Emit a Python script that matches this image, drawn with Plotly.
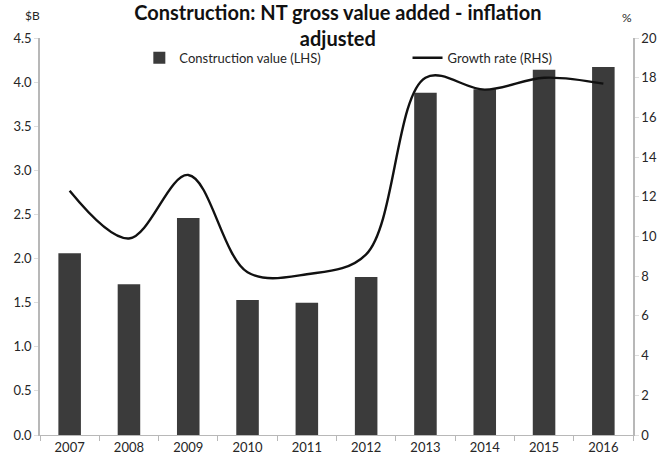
import plotly.graph_objects as go

# NT construction gross value added (inflation adjusted)
years = ["2007", "2008", "2009", "2010", "2011", "2012", "2013", "2014", "2015", "2016"]
construction_value = [2.06, 1.71, 2.46, 1.53, 1.50, 1.79, 3.88, 3.92, 4.14, 4.17]  # $B
growth_rate = [12.3, 9.9, 13.1, 8.2, 8.1, 9.1, 18.0, 17.4, 18.0, 17.7]  # %

left_ticks = [0, 0.5, 1.0, 1.5, 2.0, 2.5, 3.0, 3.5, 4.0, 4.5]
right_ticks = [0, 2, 4, 6, 8, 10, 12, 14, 16, 18, 20]

title_text = "Construction: NT gross value added - inflation<br>adjusted"

FONT = "Lato"
AXIS_GREY = "#b8b8b8"
TEXT = "#262626"

W, H = 669, 467
M_L, M_R, M_T, M_B = 40, 32, 38, 29
PLOT_W = W - M_L - M_R
PLOT_H = H - M_T - M_B


def paper_x(px):
    """Convert a pixel column (from the left of the page) to paper x."""
    return (px - M_L) / PLOT_W


def paper_y(px):
    """Convert a pixel row (from the top of the page) to paper y."""
    return (H - M_B - px) / PLOT_H


fig = go.Figure()

fig.add_trace(go.Bar(
    x=years, y=construction_value, name="Construction value (LHS)",
    marker=dict(color="#3b3b3b", line=dict(width=0)),
    width=0.38, yaxis="y", legend="legend",
))

fig.add_trace(go.Scatter(
    x=years, y=growth_rate, name="Growth rate (RHS)",
    mode="lines", line=dict(color="#111111", width=2.4, shape="spline", smoothing=1.0),
    yaxis="y2", legend="legend2",
))

legend_style = dict(
    orientation="h", xanchor="left", y=paper_y(58), yanchor="middle", yref="paper",
    bgcolor="rgba(0,0,0,0)", font=dict(size=13, color=TEXT), itemwidth=30,
)

fig.update_layout(
    width=W, height=H,
    margin=dict(l=M_L, r=M_R, t=M_T, b=M_B),
    paper_bgcolor="white", plot_bgcolor="white",
    font=dict(family=FONT, size=13, color=TEXT),
    title=dict(
        text=title_text,
        font=dict(family=FONT, size=20, color="#111111", weight="bold"),
        x=0.505, xanchor="center", xref="container",
        y=1 - 20 / H, yanchor="top", yref="container", pad=dict(t=0, b=0),
    ),
    showlegend=True,
    legend=dict(x=paper_x(140), **legend_style),
    legend2=dict(x=paper_x(410), **legend_style),
    xaxis=dict(
        type="category", showline=True, linecolor=AXIS_GREY, linewidth=1,
        ticks="outside", tickson="boundaries", ticklen=5, tickcolor=AXIS_GREY,
        showgrid=False, tickfont=dict(size=13, color=TEXT),
    ),
    yaxis=dict(
        range=[0, 4.5], tickvals=left_ticks, tickformat=".1f",
        showline=True, linecolor=AXIS_GREY, linewidth=1.5,
        ticks="outside", ticklen=4, tickcolor="#dddddd",
        showgrid=False, zeroline=False, tickfont=dict(size=13, color=TEXT),
    ),
    yaxis2=dict(
        range=[0, 20], tickvals=right_ticks, overlaying="y", side="right",
        showline=True, linecolor=AXIS_GREY, linewidth=1.5,
        ticks="outside", ticklen=4, tickcolor="#dddddd",
        showgrid=False, zeroline=False, tickfont=dict(size=13, color=TEXT),
    ),
    annotations=[
        dict(text="$B", xref="paper", yref="paper", x=paper_x(32), y=paper_y(15),
             showarrow=False, xanchor="center", yanchor="middle",
             font=dict(size=12, color=TEXT)),
        dict(text="%", xref="paper", yref="paper", x=paper_x(631), y=paper_y(17),
             showarrow=False, xanchor="center", yanchor="middle",
             font=dict(size=12, color=TEXT)),
    ],
)

fig.write_html("out.html")
